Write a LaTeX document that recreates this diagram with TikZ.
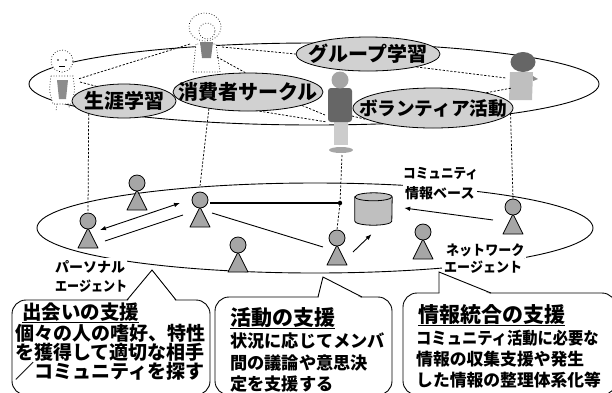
\documentclass[tikz,border=0pt]{standalone}
\usepackage{fontspec}
\usepackage{graphicx}
\newfontfamily\jp{Noto Sans CJK JP}
\usetikzlibrary{arrows.meta,shapes.geometric,calc}

\begin{document}
\begin{tikzpicture}[x=1pt,y=-1pt,
  ring/.style={line width=0.9pt},
  link/.style={line width=0.75pt, dash pattern=on 2.2pt off 1.6pt},
  tag/.style={ellipse, draw, line width=0.8pt, fill=black!18, inner sep=0pt},
  tagtext/.style={inner sep=0pt, font=\jp\bfseries\fontsize{20}{20}\selectfont},
  agenthead/.style={circle, draw, line width=0.8pt, fill=black!35, minimum size=16pt, inner sep=0pt},
  agentbody/.style={draw, line width=0.8pt, fill=black!35, line join=round},
  flow/.style={line width=0.9pt},
  tip/.style={-{Latex[length=6pt,width=4.5pt]}},
  both/.style={{Latex[length=6pt,width=4.5pt]}-{Latex[length=6pt,width=4.5pt]}},
  callout/.style={draw, line width=0.9pt, fill=white, rounded corners=14pt},
  person/.style={line width=0.7pt, dotted},
  lbl/.style={fill=white, inner sep=2pt, anchor=base west, font=\jp\bfseries\fontsize{14}{14}\selectfont},
  txt/.style={inner sep=0pt, anchor=base west}
]
\useasboundingbox (0,0) rectangle (612,392);

\newcommand\agentfig[3]{%
  \draw[agentbody] (#2,#3+7) -- (#2-10,#3+27) -- (#2+10,#3+27) -- cycle;
  \node[agenthead] (#1) at (#2,#3) {};
}

% the two layers: community layer above, agent layer below
\draw[ring] (314,84) ellipse [x radius=285pt, y radius=41pt];
\draw[ring] (315,228) ellipse [x radius=278pt, y radius=45pt];

% people of the community layer
% left person
\draw[person, fill=white] (51,76) .. controls (49,90) .. (53,104) -- (72,104) .. controls (75,90) .. (73,76) -- cycle;
\fill[black!45] (57,80) -- (68,80) -- (66,99) -- (59,99) -- cycle;
\draw[person] (57,104) -- (56,111) (68,104) -- (70,109);
\draw[person, fill=white] (62,61) circle (11pt);
\fill (58,60) circle (0.9pt) (66,60) circle (0.9pt);
\draw[line width=0.6pt] (59,66) -- (65,66);
% top person
\draw[person, fill=white] (193,72) -- (196,44) -- (216,44) -- (220,72) -- cycle;
\fill[black!50] (200,42) -- (213,42) -- (211,58) -- (202,58) -- cycle;
\draw[person, fill=white] (205,27) ellipse [x radius=16pt, y radius=14pt];
\draw[person, fill=white] (207,31) circle (8pt);
% right person
\fill[black!25] (510,72) -- (533,72) -- (532,100) -- (509,100) -- cycle;
\fill[black!60] (523,62) ellipse [x radius=12.5pt, y radius=10pt];
\fill[black!45] (533,76) -- (538,79) -- (533,81) -- cycle;
% centre person
\fill[black!20] (334,121) rectangle (348,145);
\fill[black!60, rounded corners=3pt] (328,88) rectangle (352,122);
\fill[black!35] (340,80) circle (8.5pt);
\fill[black!35] (341,150) ellipse [x radius=12pt, y radius=3pt];

% community tags
\node[tag, minimum width=104pt, minimum height=34pt] (shogai) at (124,101) {};
\node[tagtext] (shogaiT) at (shogai) {生涯学習};
\node[tag, minimum width=150pt, minimum height=38pt] (shohi) at (248,92) {};
\node[tagtext] (shohiT) at (shohi) {消費者サークル};
\node[tag, minimum width=144pt, minimum height=34pt] (group) at (368,54) {};
\node[tagtext] (groupT) at (group) {グループ学習};
\node[tag, minimum width=160pt, minimum height=40pt] (volun) at (433,108) {};
\node[tagtext, font=\jp\bfseries\fontsize{18.6}{19}\selectfont] (volunT) at (volun) {ボランティア活動};

% agents
\agentfig{a1}{88}{221}
\agentfig{a2}{137}{183}
\agentfig{a3}{200}{200}
\agentfig{a4}{238}{245}
\agentfig{a5}{337}{238}
\agentfig{a6}{423}{232}
\agentfig{a7}{513}{207}

% community information base: a cylinder
\node[minimum width=37pt, minimum height=32pt, inner sep=0pt] (db) at (373.5,209) {};
\draw[line width=0.8pt, fill=black!25]
  (db.north west) ++(0,4) -- ($(db.south west)+(0,-4)$)
  arc [start angle=180, end angle=360, x radius=18.5pt, y radius=4pt]
  -- ($(db.north east)+(0,4)$)
  arc [start angle=0, end angle=180, x radius=18.5pt, y radius=4pt] -- cycle;
\draw[line width=0.8pt] ($(db.north west)+(0,4)$)
  arc [start angle=180, end angle=360, x radius=18.5pt, y radius=4pt];

% attachment points on the people
\coordinate (p1r) at (78,79);
\coordinate (p1t) at (80,82);
\coordinate (p2l) at (190,44);
\coordinate (p2r) at (222,47);
\coordinate (p2b) at (217,57);
\coordinate (p3l) at (506,78);
\coordinate (p3b) at (512,88);
\coordinate (p4l) at (325,115);
\coordinate (p4lb) at (327,122);
\coordinate (p4r) at (352,116);
\coordinate (p4f) at (342,155);
\coordinate (c1) at (200,186);
\coordinate (dot) at (340,203);

% relations inside the community layer
\draw[link] (p2l) -- (p1r);
\draw[link] (p1t) -- (shogai.152);
\draw[link] (p2b) -- (shohi.98);
\draw[link] (p2r) -- (group.west);
\draw[link] (shohi.-14) -- (p4l);
\draw[link] (shohi.-59) -- (p4lb);
\draw[link] (p4r) -- (volun.190);
\draw[link] (group.-15) -- (p3l);
\draw[link] (volun.16) -- (p3b);

% correspondences between the layers
\draw[link] (shogai.-160) -- (a1.north);
\draw[link] (shohi.-157) -- (c1);
\draw[link] (p4f) -- (dot) -- (a5.north);
\draw[link] (volun.-4) -- (a7.north);

% agent interactions
\draw[flow, both] ($(a1)+(12,9)$) -- ($(a3)+(-20,3)$);
\draw[flow] ($(a1)+(17,20)$) -- ($(a3)+(-17,15)$);
\draw[line width=1.3pt] ($(a3)+(10,3)$) -- (dot);
\fill (dot) circle (2.2pt);
\draw[flow] ($(a3)+(12,13)$) -- ($(a5)+(-14,9)$);
\draw[flow, tip] ($(a5)+(16,14)$) -- ($(db.south)+(-2,9)$);
\draw[flow, tip] ($(a7)+(-20,13)$) -- ($(db.east)+(12,-1)$);

% labels of the agent layer
\node[lbl] (pa1) at (53,272) {パーソナル};
\node[lbl] (pa2) at (53,291) {\scalebox{0.86}[1]{エージェント}};
\node[lbl] (cb1) at (401,178) {\scalebox{0.9}[1]{コミュニティ}};
\node[lbl] (cb2) at (403,198) {情報ベース};
\node[lbl] (na1) at (444,255) {\scalebox{0.93}[1]{ネットワーク}};
\node[lbl] (na2) at (442,272) {\scalebox{0.93}[1]{エージェント}};

% callouts
\draw[callout] (12,300) rectangle (210,395);
\fill[white] (127.5,301.2) -- (152,270) -- (175.5,301.2) -- cycle;
\draw[flow, line join=miter] (127,300) -- (152,270) -- (176,300);

\draw[callout] (215,297) rectangle (392,395);
\fill[white] (318.5,298.2) -- (323,277) -- (361.5,298.2) -- cycle;
\draw[flow, line join=miter] (318,297) -- (323,277) -- (362,297);

\draw[callout] (403,293) rectangle (616,395);
\fill[white] (439.5,294.2) -- (439,272) -- (490.5,294.2) -- cycle;
\draw[flow, line join=miter] (439,293) -- (439,272) -- (491,293);

% callout texts
\node[txt, font=\jp\bfseries\fontsize{19.5}{20}\selectfont] (t1) at (22,319) {\underline{出会いの支援}};
\node[txt, font=\jp\bfseries\fontsize{19}{19}\selectfont] (t1a) at (15,340) {個々の人の嗜好、特性};
\node[txt, font=\jp\bfseries\fontsize{19}{19}\selectfont] (t1b) at (15,359) {を獲得して適切な相手};
\node[txt, font=\jp\bfseries\fontsize{19}{19}\selectfont] (t1c) at (15,378) {／コミュニティを探す};

\node[txt, font=\jp\bfseries\fontsize{21}{21}\selectfont] (t2) at (230,325) {\underline{活動の支援}};
\node[txt, font=\jp\bfseries\fontsize{17.2}{18}\selectfont] (t2a) at (230,347) {状況に応じてメンバ};
\node[txt, font=\jp\bfseries\fontsize{17.2}{18}\selectfont] (t2b) at (230,369) {間の議論や意思決};
\node[txt, font=\jp\bfseries\fontsize{17.2}{18}\selectfont] (t2c) at (230,390) {定を支援する};

\node[txt, font=\jp\bfseries\fontsize{21}{21}\selectfont] (t3) at (418,322) {\underline{情報統合の支援}};
\node[txt, font=\jp\bfseries\fontsize{16.8}{17}\selectfont] (t3a) at (416,344) {\scalebox{0.91}[1]{コミュニティ活動に必要な}};
\node[txt, font=\jp\bfseries\fontsize{16.8}{17}\selectfont] (t3b) at (416,365) {情報の収集支援や発生};
\node[txt, font=\jp\bfseries\fontsize{16.8}{17}\selectfont] (t3c) at (416,386) {した情報の整理体系化等};
\end{tikzpicture}
\end{document}
